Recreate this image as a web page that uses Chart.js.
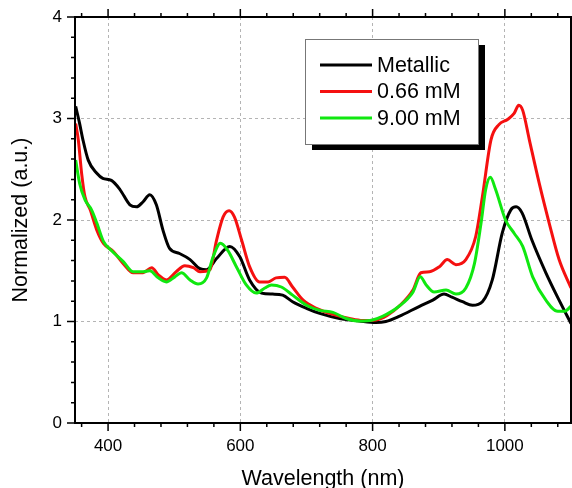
<!DOCTYPE html>
<html lang="en">
<head>
<meta charset="UTF-8">
<title>Normalized spectra</title>
<style>
  body { margin: 0; background: #fff; }
  .chart-box { position: relative; width: 572px; height: 488px; }
</style>
</head>
<body>
<div class="chart-box"><canvas id="spectraChart"></canvas></div>
<script src="https://cdn.jsdelivr.net/npm/chart.js"></script>
<script>
const seriesNames = ['Metallic', '0.66 mM', '9.00 mM'];
const seriesColors = ['#000000', '#f51010', '#10e810'];

// values (wavelength in nm, normalized absorbance)
const metallicNm = [351, 357, 362, 370, 383, 392, 405, 418, 433, 443, 453, 463, 473, 483, 493, 508, 524, 539, 549, 564, 584, 599, 614, 632, 649, 664, 679, 700, 720, 750, 780, 805, 820, 840, 871, 891, 908, 920, 936, 951, 966, 981, 996, 1009, 1017, 1026, 1041, 1062, 1082, 1100];
const metallicVal = [3.12, 2.95, 2.79, 2.59, 2.46, 2.41, 2.39, 2.30, 2.15, 2.13, 2.18, 2.25, 2.15, 1.90, 1.72, 1.67, 1.61, 1.52, 1.51, 1.62, 1.74, 1.64, 1.41, 1.28, 1.27, 1.26, 1.195, 1.13, 1.08, 1.03, 1.005, 0.99, 1.00, 1.05, 1.15, 1.21, 1.27, 1.24, 1.195, 1.16, 1.195, 1.41, 1.87, 2.10, 2.13, 2.07, 1.80, 1.48, 1.21, 0.98];

const mM066Nm = [351, 355, 360, 365, 373, 383, 393, 408, 423, 438, 453, 466, 476, 488, 503, 516, 529, 539, 554, 564, 574, 583, 591, 602, 614, 629, 642, 654, 667, 679, 695, 715, 740, 765, 785, 805, 822, 840, 861, 873, 886, 901, 913, 926, 941, 956, 966, 979, 991, 1004, 1014, 1021, 1027, 1037, 1052, 1067, 1082, 1100];
const mM066Val = [2.95, 2.79, 2.46, 2.23, 2.10, 1.90, 1.77, 1.69, 1.57, 1.48, 1.48, 1.53, 1.46, 1.41, 1.49, 1.55, 1.53, 1.49, 1.51, 1.80, 2.03, 2.09, 2.03, 1.80, 1.54, 1.39, 1.39, 1.43, 1.435, 1.34, 1.21, 1.13, 1.07, 1.03, 1.01, 1.015, 1.06, 1.15, 1.31, 1.48, 1.49, 1.54, 1.61, 1.56, 1.61, 1.84, 2.23, 2.79, 2.94, 2.99, 3.05, 3.13, 3.08, 2.79, 2.36, 1.97, 1.61, 1.33];

const mM900Nm = [351, 357, 365, 375, 383, 393, 405, 423, 438, 453, 463, 476, 488, 501, 511, 524, 536, 549, 559, 570, 581, 594, 609, 624, 637, 647, 662, 679, 700, 720, 740, 760, 780, 800, 815, 840, 861, 872, 881, 893, 911, 926, 941, 954, 964, 971, 978, 986, 1001, 1014, 1027, 1042, 1062, 1080, 1090, 1100];
const mM900Val = [2.59, 2.36, 2.20, 2.10, 1.97, 1.79, 1.70, 1.59, 1.49, 1.49, 1.50, 1.43, 1.39, 1.44, 1.48, 1.41, 1.37, 1.43, 1.64, 1.77, 1.70, 1.54, 1.36, 1.28, 1.33, 1.36, 1.34, 1.26, 1.16, 1.11, 1.09, 1.03, 1.005, 1.015, 1.05, 1.15, 1.29, 1.44, 1.36, 1.29, 1.31, 1.27, 1.33, 1.57, 1.97, 2.30, 2.42, 2.30, 2.00, 1.87, 1.74, 1.44, 1.21, 1.10, 1.10, 1.15];

const xTickValues = [400, 600, 800, 1000];
const yTickValues = [0, 1, 2, 3, 4];

function toPoints(xs, ys) {
    return xs.map((x, i) => ({ x: x, y: ys[i] }));
}

Chart.defaults.font.family = "'Liberation Sans', Arial, sans-serif";
Chart.defaults.color = '#000';

// box round the plot + major/minor tick marks (bottom, top, left)
const frameTicks = {
    id: 'frameTicks',
    afterDatasetsDraw(chart) {
        const { ctx, chartArea: a, scales: { x, y } } = chart;
        ctx.save();
        ctx.strokeStyle = '#000';
        ctx.lineWidth = 1.5;
        ctx.beginPath();
        for (let v = 360; v < 1100; v += 40) {
            const px = x.getPixelForValue(v);
            const len = v % 200 === 0 ? 8 : 4;
            ctx.moveTo(px, a.bottom); ctx.lineTo(px, a.bottom + len);
            ctx.moveTo(px, a.top); ctx.lineTo(px, a.top - len);
        }
        for (let i = 0; i <= 20; i++) {
            const py = y.getPixelForValue(i / 5);
            const len = i % 5 === 0 ? 8 : 4;
            ctx.moveTo(a.left, py); ctx.lineTo(a.left - len, py);
        }
        ctx.stroke();
        ctx.lineWidth = 2;
        ctx.strokeRect(a.left, a.top, a.right - a.left, a.bottom - a.top);
        ctx.restore();
    }
};

// legend inside the plot with a drop shadow
const boxLegend = {
    id: 'boxLegend',
    afterDraw(chart) {
        const { ctx, chartArea: a } = chart;
        const bx = a.left + 230, by = a.top + 22, bw = 173, bh = 105;
        ctx.save();
        ctx.fillStyle = '#000';
        ctx.fillRect(bx + 7, by + 6, bw, bh);
        ctx.fillStyle = '#fff';
        ctx.fillRect(bx, by, bw, bh);
        ctx.strokeStyle = '#777';
        ctx.lineWidth = 1;
        ctx.strokeRect(bx + 0.5, by + 0.5, bw, bh);
        ctx.font = "21.5px 'Liberation Sans', Arial, sans-serif";
        ctx.textBaseline = 'middle';
        ctx.lineWidth = 3;
        seriesNames.forEach((name, i) => {
            const ly = by + 26 + i * 26.5;
            ctx.strokeStyle = seriesColors[i];
            ctx.beginPath();
            ctx.moveTo(bx + 15, ly); ctx.lineTo(bx + 67, ly);
            ctx.stroke();
            ctx.fillStyle = '#000';
            ctx.fillText(name, bx + 72, ly + 1);
        });
        ctx.restore();
    }
};

const ctx = document.getElementById('spectraChart').getContext('2d');
const spectraChart = new Chart(ctx, {
    type: 'line',
    data: {
        datasets: [
            { label: seriesNames[0], data: toPoints(metallicNm, metallicVal), borderColor: seriesColors[0], order: 2 },
            { label: seriesNames[1], data: toPoints(mM066Nm, mM066Val), borderColor: seriesColors[1], order: 1 },
            { label: seriesNames[2], data: toPoints(mM900Nm, mM900Val), borderColor: seriesColors[2], order: 0 }
        ]
    },
    options: {
        responsive: true,
        maintainAspectRatio: false,
        animation: false,
        layout: { padding: { top: 17, right: 1, left: 0, bottom: 0 } },
        elements: {
            point: { radius: 0 },
            line: { borderWidth: 3, cubicInterpolationMode: 'monotone', fill: false }
        },
        plugins: {
            legend: { display: false },
            tooltip: { enabled: false }
        },
        scales: {
            x: {
                type: 'linear',
                min: 350,
                max: 1100,
                afterBuildTicks: s => { s.ticks = xTickValues.map(v => ({ value: v })); },
                afterFit: s => { s.height = 65; s.paddingLeft = 0; s.paddingRight = 0; },
                border: { display: false, dash: [3, 3] },
                grid: { drawTicks: false, color: '#b4b4b4', lineWidth: 1 },
                ticks: { padding: 13, maxRotation: 0, font: { size: 17 }, callback: v => String(v) },
                title: { display: true, text: 'Wavelength (nm)', font: { size: 21.5, lineHeight: 1 }, padding: { top: 0, bottom: -2 } }
            },
            y: {
                type: 'linear',
                min: 0,
                max: 4,
                afterBuildTicks: s => { s.ticks = yTickValues.map(v => ({ value: v })); },
                afterFit: s => { s.width = 75; s.paddingTop = 0; s.paddingBottom = 0; },
                border: { display: false, dash: [3, 3] },
                grid: {
                    drawTicks: false,
                    lineWidth: 1,
                    color: c => (c.tick && (c.tick.value === 0 || c.tick.value === 4)) ? 'rgba(0,0,0,0)' : '#b4b4b4'
                },
                ticks: { padding: 13, font: { size: 17 }, callback: v => String(v) },
                title: { display: true, text: 'Normalized (a.u.)', font: { size: 21.5 }, padding: { top: 8, bottom: 0 } }
            }
        }
    },
    plugins: [frameTicks, boxLegend]
});
</script>
</body>
</html>
